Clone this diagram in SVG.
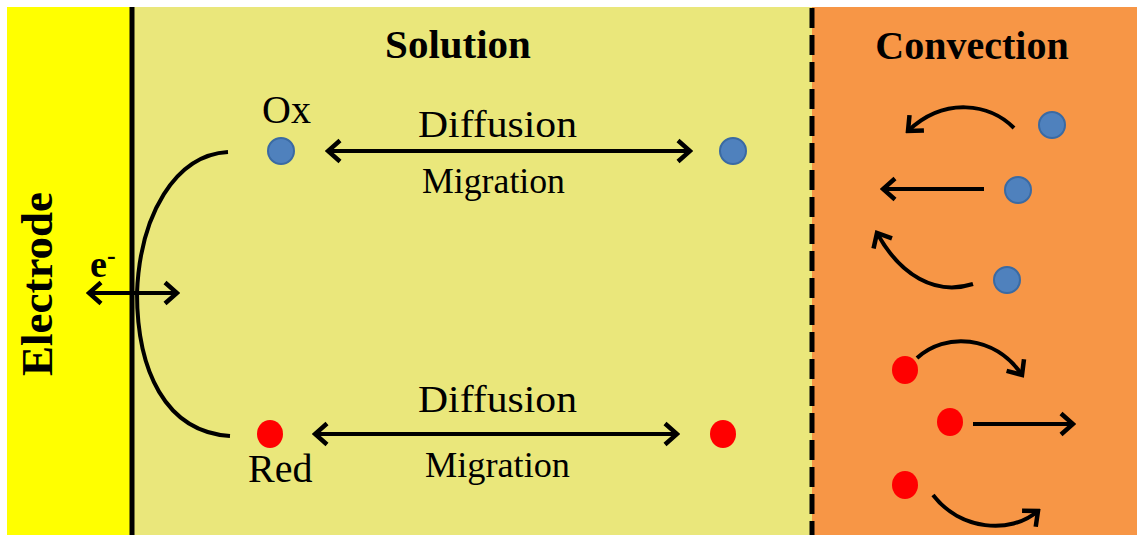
<svg xmlns="http://www.w3.org/2000/svg" width="1137" height="535" viewBox="0 0 1137 535">
<defs>
<style>
.t{font-family:"Liberation Serif","Times New Roman",serif;fill:#000}
.b{font-weight:bold}
.ln{fill:none;stroke:#000;stroke-width:4;stroke-linecap:butt}
.arr{marker-end:url(#ah)}
.dbl{marker-start:url(#ah);marker-end:url(#ah)}
.ox{fill:#4F81BD;stroke:#3A6AA3;stroke-width:2}
.rd{fill:#FF0000}
</style>
<marker id="ah" markerUnits="userSpaceOnUse" viewBox="0 0 18 26" refX="15" refY="13" markerWidth="18" markerHeight="26" orient="auto-start-reverse">
<path d="M3,2.5 L15,13 L3,23.5" fill="none" stroke="#000" stroke-width="4.5" stroke-linejoin="miter"/>
</marker>
</defs>
<rect width="1137" height="535" fill="#FFFFFF"/>
<g id="electrode">
<rect x="7" y="7" width="125" height="528" fill="#FFFF00"/>
<text class="t b" x="52" y="284" font-size="45" text-anchor="middle" transform="rotate(-90 52 284)">Electrode</text>
</g>
<g id="solution">
<rect x="132" y="7" width="680" height="528" fill="#EAE77B"/>
<text class="t b" x="458" y="58" font-size="41" text-anchor="middle">Solution</text>
</g>
<g id="convection">
<rect x="812" y="7" width="325" height="528" fill="#F79646"/>
<text class="t b" x="972" y="59" font-size="40" text-anchor="middle">Convection</text>
</g>
<g id="boundaries">
<line x1="132" y1="7" x2="132" y2="535" stroke="#000" stroke-width="5"/>
<line x1="812" y1="8" x2="812" y2="535" stroke="#000" stroke-width="5" stroke-dasharray="20 7"/>
</g>
<g id="ox-surface">
<circle class="ox" cx="281" cy="151" r="13"/>
<text class="t" x="262" y="123" font-size="40">Ox</text>
</g>
<g id="ox-bulk">
<circle class="ox" cx="733" cy="151" r="13"/>
</g>
<g id="red-surface">
<ellipse class="rd" cx="270" cy="434" rx="13" ry="14"/>
<text class="t" x="248" y="482" font-size="40">Red</text>
</g>
<g id="red-bulk">
<ellipse class="rd" cx="723" cy="434" rx="13" ry="14"/>
</g>
<g id="e-label">
<text class="t b" x="90" y="277" font-size="38">e<tspan font-size="26" dy="-13">-</tspan></text>
</g>
<g id="labels">
<text class="t" x="418" y="137" font-size="38" textLength="159" lengthAdjust="spacingAndGlyphs">Diffusion</text>
<text class="t" x="422" y="193" font-size="36" textLength="143" lengthAdjust="spacingAndGlyphs">Migration</text>
<text class="t" x="418" y="412" font-size="38" textLength="159" lengthAdjust="spacingAndGlyphs">Diffusion</text>
<text class="t" x="425" y="477" font-size="36" textLength="145" lengthAdjust="spacingAndGlyphs">Migration</text>
</g>
<g id="conv-ox">
<circle class="ox" cx="1052" cy="125" r="13"/>
<circle class="ox" cx="1018" cy="190" r="13"/>
<circle class="ox" cx="1007" cy="280" r="13"/>
</g>
<g id="conv-red">
<ellipse class="rd" cx="905" cy="370" rx="13" ry="14"/>
<ellipse class="rd" cx="950" cy="422" rx="13" ry="14"/>
<ellipse class="rd" cx="905" cy="485" rx="13" ry="14"/>
</g>
<g id="connectors">
<path class="ln" d="M228,152 C175,155 140,215 137,293 C137,370 165,432 230,436"/>
<line class="ln dbl" x1="89" y1="293" x2="177" y2="293"/>
<line class="ln dbl" x1="328" y1="151" x2="690" y2="151"/>
<line class="ln dbl" x1="315" y1="434" x2="677" y2="434"/>
<path class="ln arr" d="M1014,128 C990,104 945,96 908,131"/>
<line class="ln arr" x1="984" y1="189" x2="883" y2="189"/>
<path class="ln arr" d="M973,284 C935,296 900,275 877,233"/>
<path class="ln arr" d="M917,358 C945,332 995,335 1022,375"/>
<line class="ln arr" x1="973" y1="424" x2="1073" y2="424"/>
<path class="ln arr" d="M933,495 C960,530 1010,535 1038,511"/>
</g>
</svg>
